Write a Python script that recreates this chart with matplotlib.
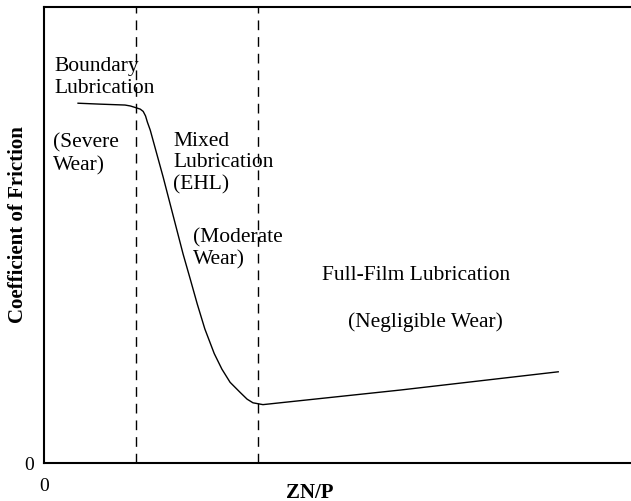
import matplotlib
matplotlib.use("Agg")
import matplotlib.pyplot as plt

# Stribeck curve (arbitrary units, x 0-10, y 0-1)
curve_x = [0.58, 0.95, 1.38, 1.47, 1.57, 1.64, 1.69, 1.73, 1.76, 1.81, 2.03,
           2.37, 2.49, 2.61, 2.74, 2.82, 2.90, 3.03, 3.17, 3.34, 3.46, 3.56,
           3.73, 4.02, 6.07, 8.76]
curve_y = [0.789, 0.787, 0.785, 0.783, 0.779, 0.776, 0.771, 0.761, 0.748,
           0.730, 0.627, 0.458, 0.404, 0.349, 0.294, 0.267, 0.240, 0.206,
           0.177, 0.155, 0.140, 0.132, 0.128, 0.132, 0.160, 0.200]

# regime boundaries
boundaries = [1.57, 3.65]

plt.rcParams['font.family'] = ['Liberation Serif', 'DejaVu Serif']

fig = plt.figure(figsize=(6.31, 5.02), dpi=100)
ax = fig.add_axes([44 / 631, 38 / 502, 587 / 631, 456 / 502])

ax.plot(curve_x, curve_y, color='black', lw=1.0)
for b in boundaries:
    ax.axvline(b, color='black', lw=1.0, linestyle=(0, (7, 5)))

ax.set_xlim(0, 10)
ax.set_ylim(0, 1)

ax.spines['right'].set_visible(False)
for s in ['left', 'bottom', 'top']:
    ax.spines[s].set_linewidth(1.5)

ax.set_xticks([0])
ax.set_yticks([0])
ax.tick_params(axis='both', length=0, labelsize=14)
ax.tick_params(axis='x', pad=10)
ax.tick_params(axis='y', pad=7)

# region annotations
fs = 15.5
ls = 1.2
ax.text(0.17, 0.848, 'Boundary\nLubrication', fontsize=fs, va='center', ha='left', linespacing=ls)
ax.text(0.15, 0.679, '(Severe\nWear)', fontsize=fs, va='center', ha='left', linespacing=ls)
ax.text(2.20, 0.660, 'Mixed\nLubrication\n(EHL)', fontsize=fs, va='center', ha='left', linespacing=ls)
ax.text(2.54, 0.471, '(Moderate\nWear)', fontsize=fs, va='center', ha='left', linespacing=ls)
ax.text(6.34, 0.414, 'Full-Film Lubrication', fontsize=fs, va='center', ha='center')
ax.text(6.49, 0.311, '(Negligible Wear)', fontsize=fs, va='center', ha='center')

# axis titles
ax.text(-0.044, 0.526, 'Coefficient of Friction', transform=ax.transAxes, rotation=90,
        fontsize=15, fontweight='bold', ha='center', va='center', clip_on=False)
ax.text(0.453, -0.064, 'ZN/P', transform=ax.transAxes,
        fontsize=15, fontweight='bold', ha='center', va='center', clip_on=False)

fig.savefig('out.png', dpi=100)
